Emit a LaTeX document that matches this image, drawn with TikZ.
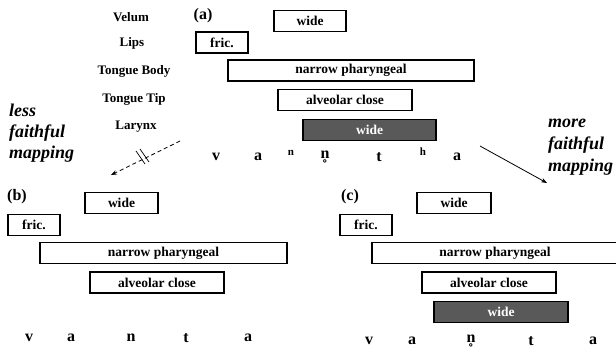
\documentclass[tikz,border=0pt]{standalone}
\usepackage{fontspec}
\setmainfont{Liberation Serif}
\usetikzlibrary{arrows.meta,calc}
\tikzset{
  gbox/.style={draw, line width=1.8pt, minimum height=21, inner sep=0pt, font=\bfseries\fontsize{13.5}{13.5}\selectfont},
  filledbox/.style={gbox, fill=black!65, text=white},
  tier/.style={font=\bfseries\fontsize{13}{13}\selectfont},
  seg/.style={font=\bfseries\fontsize{16}{16}\selectfont, inner sep=0pt},
  supseg/.style={font=\bfseries\fontsize{11}{11}\selectfont, inner sep=0pt},
  panel/.style={font=\bfseries\fontsize{16}{16}\selectfont, inner sep=0pt},
  mapping/.style={font=\bfseries\itshape\fontsize{18}{18}\selectfont, inner sep=0pt, anchor=base west},
  arrowline/.style={line width=0.8pt, -{Stealth[length=6pt,width=4.5pt]}},
}
\begin{document}
\begin{tikzpicture}[x=1pt,y=-1pt]
\useasboundingbox (0,0) rectangle (616,349);
% tier labels
\node[tier] (velum) at (131,17) {Velum};
\node[tier] (lips) at (132,43) {Lips};
\node[tier] (tb) at (134,71) {Tongue Body};
\node[tier] (tt) at (134,99) {Tongue Tip};
\node[tier] (lar) at (136,127) {Larynx};
% panel (a)
\node[panel] (pa) at (203,16) {(a)};
\node[gbox, minimum width=72] (awide) at (310,21) {wide};
\node[gbox, minimum width=52] (afric) at (222,42.5) {fric.};
\node[gbox, minimum width=246] (anarrow) at (351,70.5) {narrow pharyngeal};
\node[gbox, minimum width=134] (aalv) at (345,100) {alveolar close};
\node[filledbox, minimum width=133] (alar) at (369.5,130) {wide};
\node[seg] (av) at (216,157) {v};
\node[seg] (aa1) at (258,157) {a};
\node[supseg] (an) at (291,153) {n};
\node[seg] (ann) at (325,157) {n̥};
\node[seg] (at) at (379,157) {t};
\node[supseg] (ah) at (423,152) {h};
\node[seg] (aa2) at (457,157) {a};
% mapping labels
\node[mapping] (less1) at (9,116) {less};
\node[mapping] (less2) at (9,137) {faithful};
\node[mapping] (less3) at (9,158) {mapping};
\node[mapping] (more1) at (548,127) {more};
\node[mapping] (more2) at (548,149) {faithful};
\node[mapping] (more3) at (548,171) {mapping};
% arrows
\coordinate (ls) at (180,141);
\coordinate (le) at (111,175);
\draw[arrowline, dash pattern=on 4pt off 3pt] (ls) -- (le);
\draw[line width=0.7pt] (136,151) -- (145,164);
\draw[line width=0.7pt] (140,149) -- (149,162);
\coordinate (rs) at (480,146);
\coordinate (re) at (547,183);
\draw[arrowline] (rs) -- (re);
% panel (b)
\node[panel] (pb) at (17,197) {(b)};
\node[gbox, minimum width=73] (bwide) at (121.5,203) {wide};
\node[gbox, minimum width=52] (bfric) at (34,225) {fric.};
\node[gbox, minimum width=247] (bnarrow) at (163.5,253) {narrow pharyngeal};
\node[gbox, minimum width=134] (balv) at (157,282.5) {alveolar close};
\node[seg] (bv) at (29,338) {v};
\node[seg] (ba1) at (71,338) {a};
\node[seg] (bn) at (131,338) {n};
\node[seg] (bt) at (186,338) {t};
\node[seg] (ba2) at (248,338) {a};
% panel (c)
\node[panel] (pc) at (350,197) {(c)};
\node[gbox, minimum width=74] (cwide) at (454,203) {wide};
\node[gbox, minimum width=52] (cfric) at (366,225) {fric.};
\node[gbox, minimum width=246] (cnarrow) at (495,253) {narrow pharyngeal};
\node[gbox, minimum width=134] (calv) at (489,282.5) {alveolar close};
\node[filledbox, minimum width=134] (clar) at (501,312) {wide};
\node[seg] (cv) at (369,341) {v};
\node[seg] (ca1) at (412,341) {a};
\node[seg] (cnn) at (471,341) {n̥};
\node[seg] (ct) at (531,341) {t};
\node[seg] (ca2) at (593,341) {a};
\end{tikzpicture}
\end{document}
